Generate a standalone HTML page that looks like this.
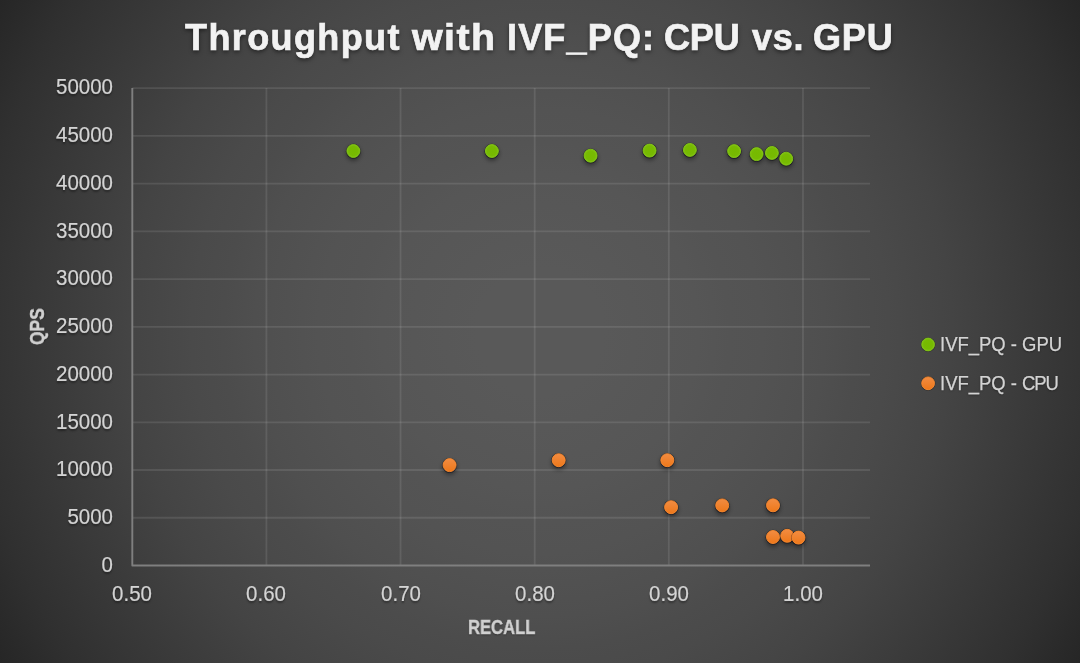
<!DOCTYPE html>
<html><head><meta charset="utf-8"><title>Throughput with IVF_PQ: CPU vs. GPU</title>
<style>
html,body{margin:0;padding:0;background:#262626;}
body{width:1080px;height:663px;position:relative;overflow:hidden;font-family:"Liberation Sans",sans-serif;}
.t{position:absolute;white-space:nowrap;line-height:1;}
.yl{color:#d4d4d4;font-size:21px;text-align:right;width:80px;left:32.6px;height:21px;transform-origin:100% 50%;transform:scale(0.975,1.06);text-shadow:0 1px 2px rgba(0,0,0,0.4);-webkit-text-stroke:0.2px #d4d4d4;}
.xl{color:#d4d4d4;font-size:21px;text-align:center;width:80px;height:21px;top:583.0px;transform-origin:50% 50%;transform:scale(0.975,1.06);text-shadow:0 1px 2px rgba(0,0,0,0.4);-webkit-text-stroke:0.2px #d4d4d4;}
.ttl{color:#f2f2f2;font-weight:bold;font-size:36px;top:19.8px;text-shadow:0 2px 4px rgba(0,0,0,0.55);-webkit-text-stroke:0.7px #f2f2f2;transform:scaleY(1.001);transform-origin:0 0;}
.lg{color:#d4d4d4;font-size:20.6px;left:939.8px;transform-origin:0 0;transform:scaleX(0.897);text-shadow:0 1px 2px rgba(0,0,0,0.4);-webkit-text-stroke:0.25px #d4d4d4;}
.ax{color:#d0d0d0;font-weight:bold;font-size:20px;transform-origin:0 0;text-shadow:0 1px 2px rgba(0,0,0,0.4);-webkit-text-stroke:0.45px #d0d0d0;will-change:transform;}
</style></head><body>
<svg width="1080" height="663" viewBox="0 0 1080 663" style="position:absolute;left:0;top:0">
<defs>
<radialGradient id="bg" gradientUnits="userSpaceOnUse" cx="540" cy="331.5" r="633.63"><stop offset="0.000" stop-color="rgb(89.0,89.0,89.0)"/><stop offset="0.050" stop-color="rgb(88.9,88.9,88.9)"/><stop offset="0.100" stop-color="rgb(88.5,88.5,88.5)"/><stop offset="0.150" stop-color="rgb(87.9,87.9,87.9)"/><stop offset="0.200" stop-color="rgb(87.0,87.0,87.0)"/><stop offset="0.250" stop-color="rgb(85.8,85.8,85.8)"/><stop offset="0.300" stop-color="rgb(84.4,84.4,84.4)"/><stop offset="0.350" stop-color="rgb(82.8,82.8,82.8)"/><stop offset="0.400" stop-color="rgb(80.8,80.8,80.8)"/><stop offset="0.450" stop-color="rgb(78.7,78.7,78.7)"/><stop offset="0.500" stop-color="rgb(76.2,76.2,76.2)"/><stop offset="0.550" stop-color="rgb(73.6,73.6,73.6)"/><stop offset="0.600" stop-color="rgb(70.6,70.6,70.6)"/><stop offset="0.650" stop-color="rgb(67.5,67.5,67.5)"/><stop offset="0.700" stop-color="rgb(64.0,64.0,64.0)"/><stop offset="0.750" stop-color="rgb(60.3,60.3,60.3)"/><stop offset="0.800" stop-color="rgb(56.4,56.4,56.4)"/><stop offset="0.850" stop-color="rgb(52.2,52.2,52.2)"/><stop offset="0.900" stop-color="rgb(47.7,47.7,47.7)"/><stop offset="0.950" stop-color="rgb(43.0,43.0,43.0)"/><stop offset="1.000" stop-color="rgb(38.0,38.0,38.0)"/></radialGradient>
<linearGradient id="og" x1="0" y1="0" x2="0" y2="1"><stop offset="0" stop-color="#f28c42"/><stop offset="1" stop-color="#ee781a"/></linearGradient>
<radialGradient id="gg" cx="0.5" cy="0.5" r="0.5"><stop offset="0" stop-color="#76b900"/><stop offset="0.7" stop-color="#77ba02"/><stop offset="1" stop-color="#82c512"/></radialGradient>
<filter id="sh" x="-50%" y="-50%" width="200%" height="200%"><feGaussianBlur stdDeviation="1.9"/></filter>
<filter id="sh2" x="-50%" y="-50%" width="200%" height="200%"><feGaussianBlur stdDeviation="0.6"/></filter>
</defs>
<rect width="1080" height="663" fill="url(#bg)"/>
<g stroke="rgba(242,242,242,0.105)" stroke-width="1.8" fill="none"><line x1="132.30" y1="517.76" x2="870.01" y2="517.76"/><line x1="132.30" y1="470.02" x2="870.01" y2="470.02"/><line x1="132.30" y1="422.28" x2="870.01" y2="422.28"/><line x1="132.30" y1="374.54" x2="870.01" y2="374.54"/><line x1="132.30" y1="326.80" x2="870.01" y2="326.80"/><line x1="132.30" y1="279.06" x2="870.01" y2="279.06"/><line x1="132.30" y1="231.32" x2="870.01" y2="231.32"/><line x1="132.30" y1="183.58" x2="870.01" y2="183.58"/><line x1="132.30" y1="135.84" x2="870.01" y2="135.84"/><line x1="132.30" y1="88.10" x2="870.01" y2="88.10"/><line x1="266.43" y1="88.10" x2="266.43" y2="565.50"/><line x1="400.56" y1="88.10" x2="400.56" y2="565.50"/><line x1="534.69" y1="88.10" x2="534.69" y2="565.50"/><line x1="668.82" y1="88.10" x2="668.82" y2="565.50"/><line x1="802.95" y1="88.10" x2="802.95" y2="565.50"/></g>
<path d="M132.30 88.10 L132.30 565.50 L870.01 565.50" stroke="#7f7f7f" stroke-width="1.9" fill="none" stroke-linejoin="round"/>
<circle cx="353.4" cy="153.5" r="7.4" fill="rgba(0,0,0,0.38)" filter="url(#sh)"/><circle cx="491.9" cy="153.5" r="7.4" fill="rgba(0,0,0,0.38)" filter="url(#sh)"/><circle cx="590.6" cy="158.2" r="7.4" fill="rgba(0,0,0,0.38)" filter="url(#sh)"/><circle cx="649.6" cy="153.1" r="7.4" fill="rgba(0,0,0,0.38)" filter="url(#sh)"/><circle cx="689.9" cy="152.4" r="7.4" fill="rgba(0,0,0,0.38)" filter="url(#sh)"/><circle cx="734.1" cy="153.6" r="7.4" fill="rgba(0,0,0,0.38)" filter="url(#sh)"/><circle cx="756.6" cy="156.6" r="7.4" fill="rgba(0,0,0,0.38)" filter="url(#sh)"/><circle cx="771.9" cy="155.4" r="7.4" fill="rgba(0,0,0,0.38)" filter="url(#sh)"/><circle cx="786.2" cy="161.2" r="7.4" fill="rgba(0,0,0,0.38)" filter="url(#sh)"/><circle cx="353.4" cy="151.3" r="7.5" fill="rgba(0,0,20,0.45)" filter="url(#sh2)"/><circle cx="353.4" cy="151.0" r="6.50" fill="url(#gg)" stroke="#84c714" stroke-width="0.9"/><circle cx="491.9" cy="151.3" r="7.5" fill="rgba(0,0,20,0.45)" filter="url(#sh2)"/><circle cx="491.9" cy="151.0" r="6.50" fill="url(#gg)" stroke="#84c714" stroke-width="0.9"/><circle cx="590.6" cy="156.0" r="7.5" fill="rgba(0,0,20,0.45)" filter="url(#sh2)"/><circle cx="590.6" cy="155.7" r="6.50" fill="url(#gg)" stroke="#84c714" stroke-width="0.9"/><circle cx="649.6" cy="150.9" r="7.5" fill="rgba(0,0,20,0.45)" filter="url(#sh2)"/><circle cx="649.6" cy="150.6" r="6.50" fill="url(#gg)" stroke="#84c714" stroke-width="0.9"/><circle cx="689.9" cy="150.2" r="7.5" fill="rgba(0,0,20,0.45)" filter="url(#sh2)"/><circle cx="689.9" cy="149.9" r="6.50" fill="url(#gg)" stroke="#84c714" stroke-width="0.9"/><circle cx="734.1" cy="151.4" r="7.5" fill="rgba(0,0,20,0.45)" filter="url(#sh2)"/><circle cx="734.1" cy="151.1" r="6.50" fill="url(#gg)" stroke="#84c714" stroke-width="0.9"/><circle cx="756.6" cy="154.4" r="7.5" fill="rgba(0,0,20,0.45)" filter="url(#sh2)"/><circle cx="756.6" cy="154.1" r="6.50" fill="url(#gg)" stroke="#84c714" stroke-width="0.9"/><circle cx="771.9" cy="153.2" r="7.5" fill="rgba(0,0,20,0.45)" filter="url(#sh2)"/><circle cx="771.9" cy="152.9" r="6.50" fill="url(#gg)" stroke="#84c714" stroke-width="0.9"/><circle cx="786.2" cy="159.0" r="7.5" fill="rgba(0,0,20,0.45)" filter="url(#sh2)"/><circle cx="786.2" cy="158.7" r="6.50" fill="url(#gg)" stroke="#84c714" stroke-width="0.9"/>
<circle cx="449.6" cy="467.6" r="7.4" fill="rgba(0,0,0,0.38)" filter="url(#sh)"/><circle cx="558.7" cy="462.7" r="7.4" fill="rgba(0,0,0,0.38)" filter="url(#sh)"/><circle cx="667.3" cy="462.7" r="7.4" fill="rgba(0,0,0,0.38)" filter="url(#sh)"/><circle cx="671.1" cy="509.7" r="7.4" fill="rgba(0,0,0,0.38)" filter="url(#sh)"/><circle cx="722.2" cy="507.9" r="7.4" fill="rgba(0,0,0,0.38)" filter="url(#sh)"/><circle cx="773.0" cy="507.8" r="7.4" fill="rgba(0,0,0,0.38)" filter="url(#sh)"/><circle cx="773.0" cy="539.5" r="7.4" fill="rgba(0,0,0,0.38)" filter="url(#sh)"/><circle cx="787.2" cy="538.3" r="7.4" fill="rgba(0,0,0,0.38)" filter="url(#sh)"/><circle cx="798.5" cy="540.1" r="7.4" fill="rgba(0,0,0,0.38)" filter="url(#sh)"/><circle cx="449.6" cy="465.4" r="7.5" fill="rgba(0,0,20,0.45)" filter="url(#sh2)"/><circle cx="449.6" cy="465.1" r="6.50" fill="url(#og)" stroke="#fb8b2e" stroke-width="0.9"/><circle cx="558.7" cy="460.5" r="7.5" fill="rgba(0,0,20,0.45)" filter="url(#sh2)"/><circle cx="558.7" cy="460.2" r="6.50" fill="url(#og)" stroke="#fb8b2e" stroke-width="0.9"/><circle cx="667.3" cy="460.5" r="7.5" fill="rgba(0,0,20,0.45)" filter="url(#sh2)"/><circle cx="667.3" cy="460.2" r="6.50" fill="url(#og)" stroke="#fb8b2e" stroke-width="0.9"/><circle cx="671.1" cy="507.5" r="7.5" fill="rgba(0,0,20,0.45)" filter="url(#sh2)"/><circle cx="671.1" cy="507.2" r="6.50" fill="url(#og)" stroke="#fb8b2e" stroke-width="0.9"/><circle cx="722.2" cy="505.7" r="7.5" fill="rgba(0,0,20,0.45)" filter="url(#sh2)"/><circle cx="722.2" cy="505.4" r="6.50" fill="url(#og)" stroke="#fb8b2e" stroke-width="0.9"/><circle cx="773.0" cy="505.6" r="7.5" fill="rgba(0,0,20,0.45)" filter="url(#sh2)"/><circle cx="773.0" cy="505.3" r="6.50" fill="url(#og)" stroke="#fb8b2e" stroke-width="0.9"/><circle cx="773.0" cy="537.3" r="7.5" fill="rgba(0,0,20,0.45)" filter="url(#sh2)"/><circle cx="773.0" cy="537.0" r="6.50" fill="url(#og)" stroke="#fb8b2e" stroke-width="0.9"/><circle cx="787.2" cy="536.1" r="7.5" fill="rgba(0,0,20,0.45)" filter="url(#sh2)"/><circle cx="787.2" cy="535.8" r="6.50" fill="url(#og)" stroke="#fb8b2e" stroke-width="0.9"/><circle cx="798.5" cy="537.9" r="7.5" fill="rgba(0,0,20,0.45)" filter="url(#sh2)"/><circle cx="798.5" cy="537.6" r="6.50" fill="url(#og)" stroke="#fb8b2e" stroke-width="0.9"/>
<circle cx="928.1" cy="344.7" r="7.3" fill="rgba(0,0,20,0.35)" filter="url(#sh2)"/>
<circle cx="928.1" cy="344.5" r="6.4" fill="url(#gg)" stroke="#84c714" stroke-width="0.9"/>
<circle cx="928.1" cy="383.5" r="7.3" fill="rgba(0,0,20,0.35)" filter="url(#sh2)"/>
<circle cx="928.1" cy="383.3" r="6.4" fill="url(#og)" stroke="#fb8b2e" stroke-width="0.9"/>
</svg>
<div class="t ttl" id="w0" style="left:185.20px;letter-spacing:1.367px;transform:scale(1.0010,1.001)">Throughput</div>
<div class="t ttl" id="w1" style="left:412.32px;letter-spacing:1.300px;transform:scale(1.0950,1.001)">with</div>
<div class="t ttl" id="w2" style="left:507.00px;letter-spacing:1.150px;transform:scale(1.0010,1.001)">IVF_PQ:</div>
<div class="t ttl" id="w3" style="left:663.80px;letter-spacing:-0.150px;transform:scale(1.0010,1.001)">CPU</div>
<div class="t ttl" id="w4" style="left:751.60px;letter-spacing:0.700px;transform:scale(1.0010,1.001)">vs.</div>
<div class="t ttl" id="w5" style="left:813.20px;letter-spacing:0.800px;transform:scale(1.0010,1.001)">GPU</div>
<div class="t yl" style="top:553.8px">0</div>
<div class="t yl" style="top:506.1px">5000</div>
<div class="t yl" style="top:458.3px">10000</div>
<div class="t yl" style="top:410.6px">15000</div>
<div class="t yl" style="top:362.8px">20000</div>
<div class="t yl" style="top:315.1px">25000</div>
<div class="t yl" style="top:267.4px">30000</div>
<div class="t yl" style="top:219.6px">35000</div>
<div class="t yl" style="top:171.9px">40000</div>
<div class="t yl" style="top:124.1px">45000</div>
<div class="t yl" style="top:76.4px">50000</div>
<div class="t xl" style="left:92.3px">0.50</div>
<div class="t xl" style="left:226.4px">0.60</div>
<div class="t xl" style="left:360.6px">0.70</div>
<div class="t xl" style="left:494.7px">0.80</div>
<div class="t xl" style="left:628.8px">0.90</div>
<div class="t xl" style="left:763.0px">1.00</div>
<div class="t lg" id="lg1" style="top:334.3px">IVF_PQ - GPU</div>
<div class="t lg" id="lg2" style="top:373.1px">IVF_PQ - <span style="letter-spacing:-1.3px">CPU</span></div>
<div class="t ax" id="axx" style="left:467.6px;top:617.1px;transform:scaleX(0.83)">RECALL</div>
<div class="t ax" id="axy" style="left:26.6px;top:345.4px;transform:rotate(-90deg) scaleX(0.87)">QPS</div>
</body></html>
